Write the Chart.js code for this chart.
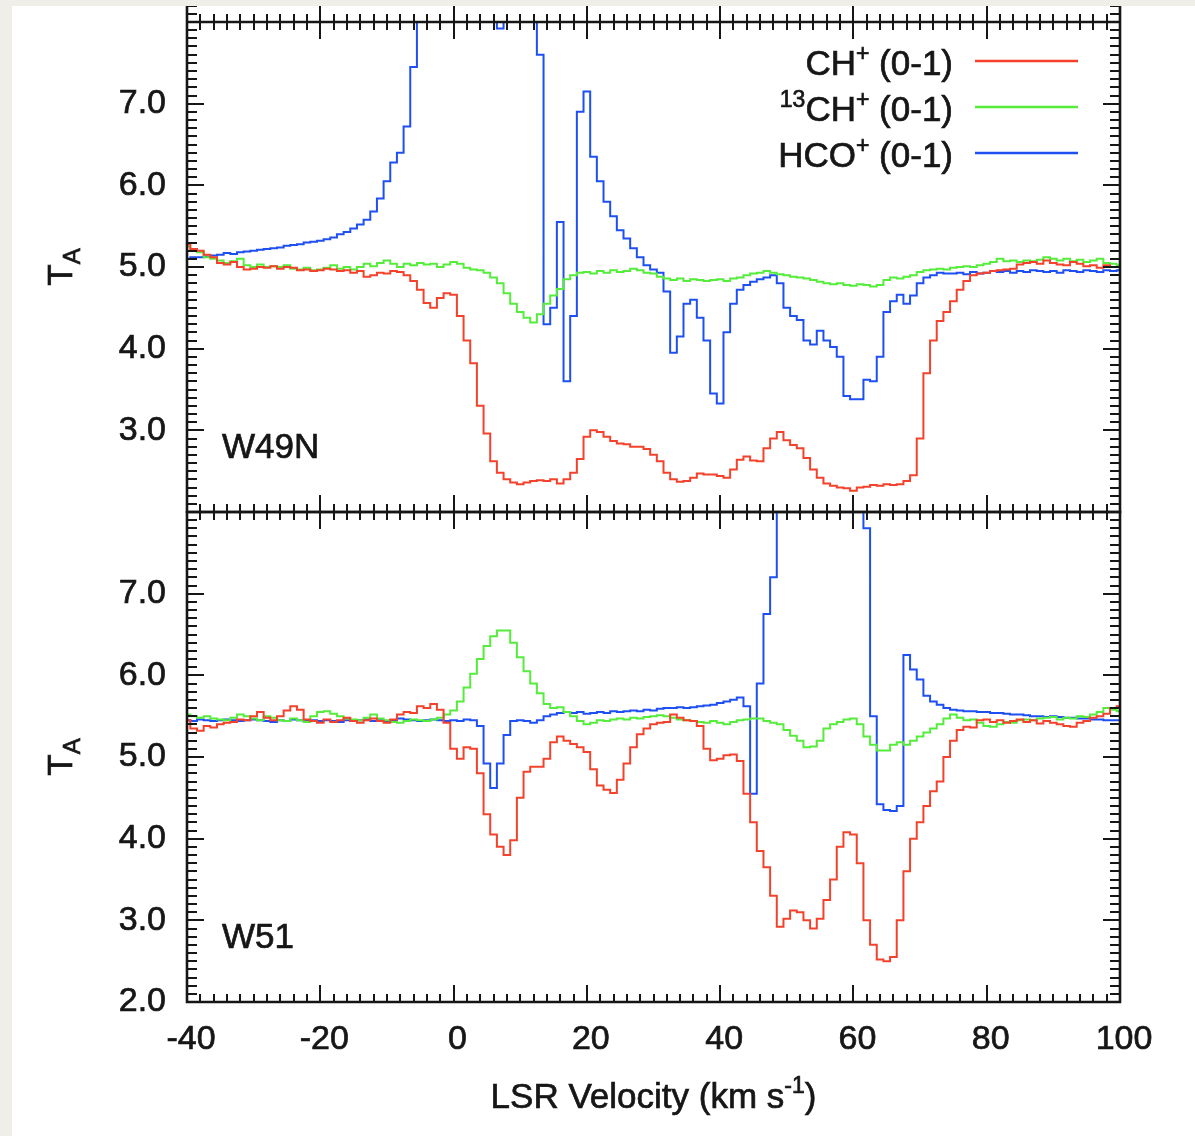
<!DOCTYPE html>
<html>
<head>
<meta charset="utf-8">
<script src="https://cdn.jsdelivr.net/npm/chart.js@4.4.1/dist/chart.umd.min.js"></script>
<style>
html, body { margin: 0; padding: 0; background: #efefe7; width: 1195px; height: 1136px; overflow: hidden; }
#paper { position: absolute; left: 12px; top: 6px; width: 1183px; height: 1130px; background: #ffffff; }
canvas { position: absolute; left: 0; }
#topChart { top: 6px; }
#botChart { top: 480px; }
</style>
</head>
<body>
<div id="paper"></div>
<canvas id="topChart" width="1195" height="530"></canvas>
<canvas id="botChart" width="1195" height="656"></canvas>
<script>
// ---------- data (LSR velocity grid, km/s) ----------
const velocity = [
  -40,-39,-38,-37,-36,-35,-34,-33,-32,-31,
  -30,-29,-28,-27,-26,-25,-24,-23,-22,-21,
  -20,-19,-18,-17,-16,-15,-14,-13,-12,-11,
  -10,-9,-8,-7,-6,-5,-4,-3,-2,-1,
  0,1,2,3,4,5,6,7,8,9,
  10,11,12,13,14,15,16,17,18,19,
  20,21,22,23,24,25,26,27,28,29,
  30,31,32,33,34,35,36,37,38,39,
  40,41,42,43,44,45,46,47,48,49,
  50,51,52,53,54,55,56,57,58,59,
  60,61,62,63,64,65,66,67,68,69,
  70,71,72,73,74,75,76,77,78,79,
  80,81,82,83,84,85,86,87,88,89,
  90,91,92,93,94,95,96,97,98,99,
  100
];

// W49N panel
const w49nCHp = [
  5.28,5.22,5.2,5.15,5.12,5.05,5.03,5.06,5.0,4.97,
  4.98,5.0,4.99,5.01,4.98,5.0,4.99,4.96,4.97,4.95,
  4.96,4.98,4.97,4.95,4.96,4.93,4.95,4.88,4.9,4.93,
  4.92,4.95,4.94,4.9,4.83,4.72,4.56,4.5,4.62,4.68,
  4.66,4.4,4.1,3.82,3.3,2.96,2.62,2.48,2.4,2.36,
  2.34,2.36,2.38,2.39,2.38,2.4,2.35,2.4,2.48,2.65,
  2.92,3.0,2.98,2.92,2.87,2.84,2.83,2.8,2.8,2.77,
  2.7,2.62,2.48,2.4,2.37,2.38,2.42,2.47,2.46,2.46,
  2.44,2.42,2.52,2.64,2.68,2.63,2.62,2.78,2.9,2.98,
  2.88,2.82,2.78,2.66,2.52,2.42,2.35,2.32,2.3,2.29,
  2.26,2.3,2.31,2.33,2.32,2.34,2.33,2.34,2.38,2.45,
  2.9,3.7,4.1,4.34,4.45,4.58,4.72,4.83,4.9,4.92,
  4.93,4.95,4.96,4.97,4.98,5.03,5.05,5.06,5.04,5.08,
  5.05,5.03,5.02,5.06,5.04,5.01,5.02,4.99,5.02,5.0,
  5.0
];
const w49n13CHp = [
  5.25,5.2,5.18,5.12,5.1,5.08,5.05,5.07,5.1,5.02,
  5.0,5.03,5.0,5.01,5.0,5.02,4.98,4.97,4.99,4.96,
  4.97,4.99,5.02,4.98,5.0,4.97,5.0,5.04,5.01,5.05,
  5.08,5.04,5.0,5.04,5.02,5.05,5.03,5.04,5.0,5.03,
  5.06,5.04,4.99,4.97,4.96,4.93,4.87,4.8,4.68,4.55,
  4.45,4.38,4.32,4.42,4.55,4.65,4.73,4.85,4.9,4.93,
  4.94,4.92,4.95,4.93,4.96,4.94,4.95,4.98,4.96,4.93,
  4.92,4.88,4.86,4.84,4.86,4.83,4.85,4.84,4.83,4.84,
  4.85,4.83,4.86,4.87,4.9,4.92,4.93,4.95,4.93,4.91,
  4.9,4.88,4.87,4.86,4.84,4.82,4.8,4.79,4.8,4.78,
  4.77,4.79,4.78,4.76,4.78,4.84,4.87,4.86,4.88,4.9,
  4.94,4.96,4.97,4.98,4.97,4.99,5.0,5.01,5.0,5.02,
  5.04,5.06,5.1,5.07,5.08,5.06,5.08,5.07,5.09,5.12,
  5.1,5.08,5.1,5.07,5.09,5.06,5.08,5.1,5.05,5.04,
  5.02
];
const w49nHCOp = [
  5.1,5.12,5.12,5.13,5.14,5.15,5.17,5.16,5.18,5.19,
  5.2,5.21,5.22,5.23,5.24,5.26,5.27,5.28,5.3,5.31,
  5.32,5.34,5.36,5.4,5.43,5.47,5.52,5.58,5.68,5.84,
  6.05,6.28,6.4,6.72,7.45,8.3,9.0,9.5,9.8,10.0,
  10.2,10.0,9.6,9.0,8.5,8.2,8.3,7.92,8.4,8.8,
  9.2,9.0,8.1,7.6,4.3,4.5,5.55,3.6,4.4,6.9,
  7.15,6.35,6.05,5.8,5.62,5.45,5.35,5.23,5.12,5.02,
  4.97,4.93,4.7,3.95,4.15,4.55,4.6,4.38,4.1,3.45,
  3.33,4.2,4.55,4.72,4.78,4.82,4.85,4.87,4.9,4.8,
  4.5,4.4,4.35,4.1,4.05,4.22,4.1,4.02,3.9,3.42,
  3.38,3.38,3.62,3.6,3.9,4.45,4.58,4.66,4.55,4.65,
  4.8,4.87,4.9,4.93,4.92,4.92,4.93,4.91,4.94,4.92,
  4.93,4.95,4.94,4.95,4.93,4.95,4.94,4.96,4.95,4.94,
  4.95,4.93,4.96,4.95,4.94,4.96,4.95,4.94,4.96,4.95,
  4.96
];

// W51 panel
const w51CHp = [
  5.45,5.35,5.32,5.38,5.36,5.4,5.42,5.43,5.46,5.45,
  5.5,5.55,5.48,5.45,5.5,5.57,5.62,5.58,5.46,5.44,
  5.42,5.46,5.43,5.45,5.48,5.44,5.42,5.45,5.47,5.44,
  5.42,5.46,5.52,5.55,5.54,5.62,5.6,5.65,5.58,5.42,
  5.1,4.98,5.12,5.1,4.8,4.3,4.05,3.9,3.8,3.98,
  4.5,4.82,4.88,4.88,4.98,5.18,5.25,5.2,5.16,5.12,
  5.06,4.85,4.65,4.6,4.56,4.72,4.92,5.12,5.28,5.35,
  5.4,5.42,5.43,5.52,5.48,5.45,5.44,5.38,5.1,4.96,
  4.98,5.02,5.03,4.95,4.55,4.2,3.85,3.65,3.3,2.92,
  3.02,3.12,3.1,3.0,2.9,3.02,3.25,3.5,3.9,4.08,
  4.05,3.7,3.0,2.7,2.52,2.5,2.55,3.0,3.6,4.0,
  4.2,4.4,4.58,4.7,5.0,5.2,5.33,5.37,5.36,5.45,
  5.46,5.43,5.45,5.42,5.44,5.46,5.43,5.45,5.41,5.44,
  5.42,5.4,5.38,5.37,5.42,5.44,5.48,5.5,5.53,5.6,
  5.62
];
const w5113CHp = [
  5.52,5.5,5.48,5.5,5.47,5.46,5.45,5.48,5.52,5.5,
  5.47,5.45,5.5,5.48,5.45,5.44,5.47,5.45,5.43,5.5,
  5.55,5.56,5.53,5.5,5.47,5.46,5.45,5.48,5.52,5.47,
  5.45,5.43,5.42,5.44,5.46,5.45,5.44,5.46,5.48,5.52,
  5.57,5.68,5.85,6.02,6.2,6.36,6.48,6.55,6.55,6.4,
  6.22,6.05,5.9,5.78,5.65,5.6,5.61,5.55,5.5,5.44,
  5.4,5.42,5.45,5.44,5.46,5.47,5.46,5.48,5.47,5.49,
  5.5,5.51,5.5,5.48,5.46,5.45,5.44,5.43,5.42,5.44,
  5.42,5.4,5.43,5.45,5.46,5.47,5.47,5.44,5.42,5.4,
  5.33,5.26,5.2,5.12,5.13,5.2,5.35,5.4,5.43,5.46,
  5.47,5.4,5.25,5.15,5.08,5.08,5.15,5.18,5.15,5.2,
  5.25,5.3,5.35,5.4,5.47,5.52,5.48,5.45,5.46,5.42,
  5.38,5.37,5.4,5.43,5.42,5.45,5.46,5.45,5.47,5.48,
  5.49,5.46,5.48,5.47,5.5,5.49,5.52,5.55,5.6,5.58,
  5.56
];
const w51HCOp = [
  5.45,5.44,5.46,5.45,5.44,5.45,5.46,5.45,5.44,5.45,
  5.46,5.45,5.44,5.43,5.45,5.44,5.46,5.45,5.44,5.45,
  5.44,5.45,5.44,5.43,5.45,5.44,5.45,5.46,5.44,5.45,
  5.44,5.45,5.47,5.46,5.45,5.44,5.45,5.46,5.45,5.44,
  5.45,5.44,5.46,5.45,5.38,4.92,4.62,4.92,5.27,5.44,
  5.45,5.44,5.42,5.45,5.5,5.52,5.54,5.55,5.54,5.55,
  5.53,5.54,5.55,5.54,5.56,5.55,5.56,5.57,5.56,5.58,
  5.57,5.59,5.6,5.6,5.61,5.6,5.61,5.62,5.63,5.64,
  5.66,5.68,5.7,5.73,5.62,4.55,5.9,6.75,7.2,8.6,
  9.5,10.0,10.5,10.8,11.0,11.0,10.8,10.4,9.8,9.2,
  8.7,8.3,7.8,5.5,4.42,4.35,4.34,4.4,6.25,6.07,
  5.95,5.75,5.68,5.64,5.6,5.58,5.57,5.56,5.56,5.55,
  5.55,5.54,5.54,5.53,5.52,5.52,5.51,5.5,5.5,5.49,
  5.5,5.49,5.48,5.48,5.47,5.47,5.46,5.46,5.45,5.45,
  5.45
];

// ---------- labels / ticks ----------
const seriesNames = ['CH\u207A (0-1)', '\u00B9\u00B3CH\u207A (0-1)', 'HCO\u207A (0-1)'];
const legendParts = [
  [['CH', 0], ['+', 1], [' (0-1)', 0]],
  [['13', 1], ['CH', 0], ['+', 1], [' (0-1)', 0]],
  [['HCO', 0], ['+', 1], [' (0-1)', 0]]
];
const seriesColors = ['#f4412b', '#55ec3c', '#1e4ff2'];
const panelNames = ['W49N', 'W51'];
const xTickValues = [-40, -20, 0, 20, 40, 60, 80, 100];
const yTickValuesTop = [3, 4, 5, 6, 7];
const yTickValuesBottom = [2, 3, 4, 5, 6, 7];
const xTitleMain = 'LSR Velocity (km s';
const xTitleSup = '-1';
const xTitleEnd = ')';
const yTitleMain = 'T';
const yTitleSub = 'A';

const FONT = '"Liberation Sans", Arial, Helvetica, sans-serif';
const INK = '#161616';
const TEXT_STROKE = 0.7;

function richText(ctx, text, x, y) {
  ctx.fillText(text, x, y);
  ctx.strokeText(text, x, y);
}

// ---------- plugins ----------
const frameTicks = {
  id: 'frameTicks',
  afterDatasetsDraw(chart, args, opts) {
    const { ctx, chartArea: a } = chart;
    const xs = chart.scales.x, ys = chart.scales.y;
    ctx.save();
    ctx.strokeStyle = INK;
    ctx.lineWidth = 2;
    ctx.beginPath();
    for (let i = -20; i <= 50; i++) {
      const v = i * 2;
      const px = Math.round(xs.getPixelForValue(v));
      const L = (v % 20 === 0) ? 17 : 8;
      ctx.moveTo(px, a.bottom); ctx.lineTo(px, a.bottom - L);
      ctx.moveTo(px, a.top); ctx.lineTo(px, a.top + L);
      if (opts.outerTop) { ctx.moveTo(px, a.top); ctx.lineTo(px, a.top - L); }
    }
    const yMaxI = opts.outerTop ? 83 : 80;
    for (let i = 20; i <= yMaxI; i++) {
      const py = Math.round(ys.getPixelForValue(i / 10));
      if (py < 0) continue;
      const L = (i % 10 === 0) ? 17 : 10;
      ctx.moveTo(a.left, py); ctx.lineTo(a.left + L, py);
      ctx.moveTo(a.right, py); ctx.lineTo(a.right - L, py);
    }
    ctx.stroke();
    ctx.lineWidth = 2.6;
    ctx.beginPath();
    ctx.rect(a.left, a.top, a.right - a.left, a.bottom - a.top);
    if (opts.outerTop) {
      ctx.moveTo(a.left, a.top); ctx.lineTo(a.left, 0);
      ctx.moveTo(a.right, a.top); ctx.lineTo(a.right, 0);
    }
    ctx.stroke();
    ctx.restore();
  },
  afterDraw(chart, args, opts) {
    const { ctx, chartArea: a } = chart;
    ctx.save();
    ctx.fillStyle = INK;
    ctx.strokeStyle = INK;
    ctx.lineWidth = TEXT_STROKE;
    // panel name
    ctx.font = '35px ' + FONT;
    ctx.textAlign = 'left';
    ctx.textBaseline = 'alphabetic';
    richText(ctx, opts.panel, a.left + 35, a.bottom - 54);
    // y title T_A (rotated)
    const cy = (a.top + a.bottom) / 2;
    ctx.save();
    ctx.translate(72, cy);
    ctx.rotate(-Math.PI / 2);
    ctx.font = '35px ' + FONT;
    const wT = ctx.measureText(yTitleMain).width;
    ctx.font = '24px ' + FONT;
    const wA = ctx.measureText(yTitleSub).width;
    const x0 = -(wT + wA) / 2;
    ctx.font = '35px ' + FONT;
    richText(ctx, yTitleMain, x0, 0);
    ctx.font = '24px ' + FONT;
    richText(ctx, yTitleSub, x0 + wT, 8);
    ctx.restore();
    // legend
    if (opts.legend) {
      const rightX = a.right - 167;
      const base0 = a.top + 53;
      chart.data.datasets.forEach((ds, k) => {
        const parts = legendParts[k];
        const by = base0 + k * 46;
        let total = 0;
        parts.forEach(([t, sup]) => {
          ctx.font = (sup ? '23px ' : '35px ') + FONT;
          total += ctx.measureText(t).width;
        });
        let x = rightX - total;
        ctx.strokeStyle = INK;
        ctx.lineWidth = TEXT_STROKE;
        parts.forEach(([t, sup]) => {
          ctx.font = (sup ? '23px ' : '35px ') + FONT;
          richText(ctx, t, x, sup ? by - 14 : by);
          x += ctx.measureText(t).width;
        });
        ctx.save();
        ctx.strokeStyle = ds.borderColor;
        ctx.lineWidth = 2.5;
        ctx.beginPath();
        ctx.moveTo(a.right - 145, by - 14);
        ctx.lineTo(a.right - 42, by - 14);
        ctx.stroke();
        ctx.restore();
      });
    }
    // x title
    if (opts.xTitle) {
      ctx.font = '35px ' + FONT;
      const w1 = ctx.measureText(xTitleMain).width;
      const w3 = ctx.measureText(xTitleEnd).width;
      ctx.font = '23px ' + FONT;
      const w2 = ctx.measureText(xTitleSup).width;
      const cx = (a.left + a.right) / 2;
      let x = cx - (w1 + w2 + w3) / 2;
      const by = a.bottom + 106;
      ctx.font = '35px ' + FONT;
      richText(ctx, xTitleMain, x, by); x += w1;
      ctx.font = '23px ' + FONT;
      richText(ctx, xTitleSup, x, by - 15); x += w2;
      ctx.font = '35px ' + FONT;
      richText(ctx, xTitleEnd, x, by);
    }
    ctx.restore();
  }
};

function toPoints(arr) {
  return velocity.map((v, i) => ({ x: v, y: arr[i] }));
}

function makeChart(canvasId, series, isTop) {
  const datasets = series.map((arr, k) => ({
    label: seriesNames[k],
    data: toPoints(arr),
    borderColor: seriesColors[k],
    backgroundColor: seriesColors[k],
    borderWidth: 2,
    pointRadius: 0,
    stepped: 'middle',
    fill: false
  }));
  const yTicks = isTop ? yTickValuesTop : yTickValuesBottom;
  return new Chart(document.getElementById(canvasId), {
    type: 'line',
    data: { datasets },
    options: {
      responsive: false,
      animation: false,
      devicePixelRatio: 1,
      layout: { padding: isTop ? { left: 0, top: 16, right: 75, bottom: 24 } : { left: 0, top: 32, right: 75, bottom: 0 } },
      plugins: {
        legend: { display: false },
        tooltip: { enabled: false },
        frameTicks: { panel: isTop ? panelNames[0] : panelNames[1], legend: isTop, xTitle: !isTop, outerTop: isTop }
      },
      scales: {
        x: {
          type: 'linear',
          min: -40, max: 100,
          display: !isTop,
          grid: { display: false, drawTicks: false },
          border: { display: false },
          afterBuildTicks: (s) => { s.ticks = xTickValues.map(v => ({ value: v })); },
          afterFit: (s) => {
            s.height = isTop ? 0 : 134;
            s.paddingLeft = 0; s.paddingRight = 0; s.paddingTop = 0; s.paddingBottom = 0;
          },
          ticks: {
            autoSkip: false, maxRotation: 0, minRotation: 0,
            padding: 17, labelOffset: 4,
            color: INK,
            textStrokeColor: INK, textStrokeWidth: TEXT_STROKE,
            font: { family: FONT, size: 34 },
            callback: (v) => String(v)
          }
        },
        y: {
          type: 'linear',
          min: 2, max: 8,
          grid: { display: false, drawTicks: false },
          border: { display: false },
          afterBuildTicks: (s) => { s.ticks = yTicks.map(v => ({ value: v })); },
          afterFit: (s) => {
            s.width = 187;
            s.paddingLeft = 0; s.paddingRight = 0; s.paddingTop = 0; s.paddingBottom = 0;
          },
          ticks: {
            padding: 21,
            color: INK,
            textStrokeColor: INK, textStrokeWidth: TEXT_STROKE,
            font: { family: FONT, size: 34 },
            callback: (v) => Number(v).toFixed(1)
          }
        }
      }
    },
    plugins: [frameTicks]
  });
}

makeChart('topChart', [w49nCHp, w49n13CHp, w49nHCOp], true);
makeChart('botChart', [w51CHp, w5113CHp, w51HCOp], false);
</script>
</body>
</html>
